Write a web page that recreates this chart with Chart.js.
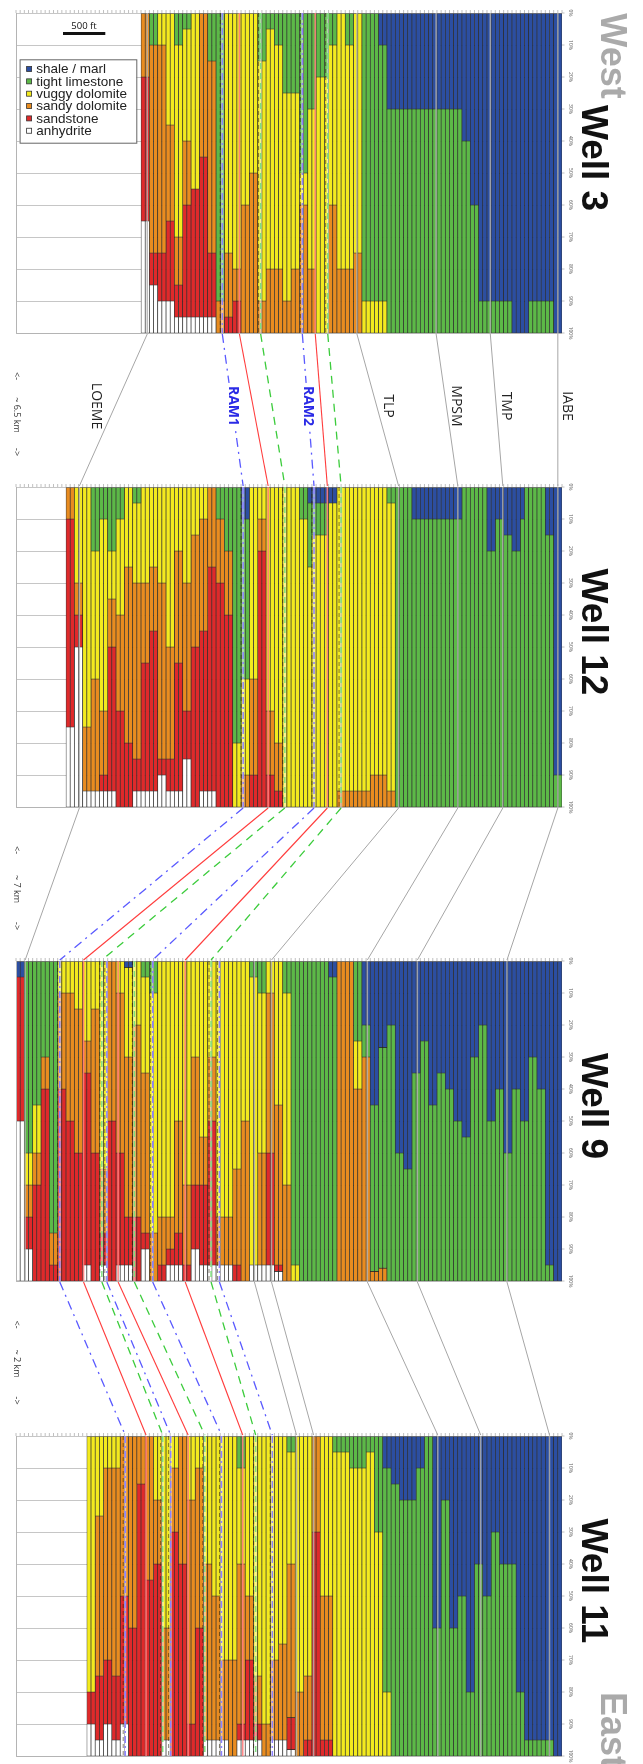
<!DOCTYPE html>
<html>
<head>
<meta charset="utf-8">
<script src="https://cdn.jsdelivr.net/npm/chart.js@4.4.1/dist/chart.umd.min.js"></script>
<style>
  body { margin: 0; background: #fff; }
  #page { position: relative; width: 643px; height: 1764px; overflow: hidden; background: #fff; }
  #page canvas { position: absolute; left: 0; }
</style>
</head>
<body>
<div id="page"></div>
<script>
// ==========================================
// DATA
// ==========================================

// every panel has the same number of depth columns; wells start further right when shorter
const columnCount = 131;
const columnLabels = Array.from({ length: columnCount }, (_, i) => i + 1);
const wellNames = ["Well 3", "Well 12", "Well 9", "Well 11"];
const wellFirstColumn = [30, 12, 0, 17];

const layerNames = ["shale / marl", "tight limestone", "vuggy dolomite", "sandy dolomite", "sandstone", "anhydrite"];
const layerColors = ["#2b4ea2", "#5cb947", "#f3ea1e", "#e98c1f", "#e0292a", "#ffffff"];

const percentTicks = [0, 10, 20, 30, 40, 50, 60, 70, 80, 90, 100];

// base (in %) of each layer per column, top = 0 %
const w3ShaleBase = [
  0,0,0,0,0,0,0,0,0,0, 0,0,0,0,0,0,0,0,0,0,
  0,0,0,0,0,0,0,0,0,0, 0,0,0,0,0,0,0,0,0,0,
  0,0,0,0,0,0,0,0,0,0, 0,0,0,0,0,0,0, 10,10,
  30,30,30,30,30,30,30,30,30,30, 30,30,30,30,30,30,30,30,
  40,40, 60,60, 90,90,90,90,90,90,90,90, 100,100,100,100, 90,90,90,90,90,90, 100,100
];
const w3LimeBase = [
  0,0, 10,10, 0,0, 0,0, 10,10, 5,5, 0,0, 0,0, 15,15, 90,90,
  0,0, 0,0, 0,0, 0,0, 15,15, 5,5, 10,10, 25,25, 25,25, 50,50,
  30,30, 20,20,20, 10,10, 0,0, 10,10, 0,0, 90,90,90,90, 90,90,
  100,100,100,100,100,100,100,100,100,100, 100,100,100,100,100,100,100,100,100,100,
  100,100,100,100,100,100,100,100,100,100, 100,100,100,100,100,100,100,100,100,100,
  100,100
];
const w3VuggyBase = [
  0,0, 10,10, 10,10, 35,35, 70,70, 40,40, 55,55, 0,0, 15,15, 90,90,
  75,75, 80,80, 60,60, 50,50, 90,90, 80,80, 80,80, 90,90, 80,80, 60,60,
  80,80, 100,100,100, 60,60, 80,80, 80,80, 75,75,
  100,100,100,100,100,100,100,100,100,100, 100,100,100,100,100,100,100,100,100,100,
  100,100,100,100,100,100,100,100,100,100, 100,100,100,100,100,100,100,100,100,100,
  100,100,100,100,100,100,100,100
];
const w3SandyBase = [
  20,20, 75,75, 75,75, 65,65, 85,85, 60,60, 55,55, 45,45, 75,75, 100,100,
  95,95, 90,90,
  100,100,100,100,100,100,100,100,100,100, 100,100,100,100,100,100,100,100,100,100,
  100,100,100,100,100,100,100,100,100,100, 100,100,100,100,100,100,100,100,100,100,
  100,100,100,100,100,100,100,100,100,100, 100,100,100,100,100,100,100,100,100,100,
  100,100,100,100,100,100,100,100,100,100, 100,100,100,100,100,100,100
];
const w3SandBase = [
  65,65, 85,85, 90,90, 90,90, 95,95, 95,95, 95,95, 95,95, 95,95,
  100,100,100,100,100,100,100,100,100,100, 100,100,100,100,100,100,100,100,100,100,
  100,100,100,100,100,100,100,100,100,100, 100,100,100,100,100,100,100,100,100,100,
  100,100,100,100,100,100,100,100,100,100, 100,100,100,100,100,100,100,100,100,100,
  100,100,100,100,100,100,100,100,100,100, 100,100,100,100,100,100,100,100,100,100,
  100,100,100
];

const w12ShaleBase = [
  0,0,0,0,0,0,0,0,0,0, 0,0,0,0,0,0,0,0,0,0,
  0,0,0,0,0,0,0,0,0,0, 0,0,0,0,0,0,0,0,0,0,
  0,0, 10,10, 0,0,0,0,0,0,0,0,0,0,0,0,0,0,
  5,5,5,5,5,5,5,
  0,0,0,0,0,0,0,0,0,0, 0,0,0,0,0,0,0,0,
  10,10,10,10,10,10,10,10,10,10,10,10,
  0,0,0,0,0,0, 20,20, 10,10, 15,15, 20,20, 10, 0,0,0,0,0, 15,15, 90,90
];
const w12LimeBase = [
  0,0, 0,0, 0,0, 20,20, 10,10, 20,20, 10,10, 0,0, 5,5, 0,0,
  0,0, 0,0, 0,0, 0,0, 0,0, 0,0, 0,0, 0,0, 10,10, 20,20,
  80,80, 60,60, 0,0, 0,0, 0,0, 0,0, 0,0,0,0, 10,10,
  25, 15,15,15,15, 5,5,
  0,0,0,0,0,0,0,0, 0,0,0,0, 5,5,
  100,100,100,100,100,100,100,100,100,100, 100,100,100,100,100,100,100,100,100,100,
  100,100,100,100,100,100,100,100,100,100, 100,100,100,100,100,100,100,100,100,100
];
const w12VuggyBase = [
  0,0, 30,30, 75,75, 60,60, 70,70, 35,35, 40,40, 25,25, 30,30, 30,30,
  25,25, 30,30, 50,50, 20,20, 30,30, 15,15, 10,10, 0,0, 10,10, 20,20,
  100,100, 90,90, 60,60, 10,10, 70,70, 80,80,
  100,100,100,100, 100,100, 100, 100,100,100,100, 100,100,
  95,95,95,95,95,95,95,95, 90,90,90,90, 95,95,
  100,100,100,100,100,100,100,100,100,100, 100,100,100,100,100,100,100,100,100,100,
  100,100,100,100,100,100,100,100,100,100, 100,100,100,100,100,100,100,100,100,100
];
const w12SandyBase = [
  10,10, 40,40, 95,95, 95,95, 90,90, 50,50, 70,70, 80,80, 85,85, 55,55,
  45,45, 85,85, 85,85, 55,55, 70,70, 50,50, 45,45, 25,25, 30,30, 40,40,
  100,100, 100,100, 90,90, 20,20, 90,90, 95,95,
  100,100,100,100,100,100,100,100,100,100, 100,100,100,100,100,100,100,100,100,100,
  100,100,100,100,100,100,100,100,100,100, 100,100,100,100,100,100,100,100,100,100,
  100,100,100,100,100,100,100,100,100,100, 100,100,100,100,100,100,100,100,100,100,
  100,100,100,100,100,100,100
];
const w12SandBase = [
  75,75, 50,50, 95,95, 95,95, 95,95, 95,95, 100,100, 100,100, 95,95, 95,95,
  95,95, 90,90, 95,95, 95,95, 85,85, 100,100, 95,95, 95,95, 100,100, 100,100,
  100,100,100,100,100,100,100,100,100,100, 100,100,100,100,100,100,100,100,100,100,
  100,100,100,100,100,100,100,100,100,100, 100,100,100,100,100,100,100,100,100,100,
  100,100,100,100,100,100,100,100,100,100, 100,100,100,100,100,100,100,100,100,100,
  100,100,100,100,100,100,100,100,100,100, 100,100,100,100,100,100,100,100,100
];

const w9ShaleBase = [
  5,5,
  0,0,0,0,0,0,0,0,0,0, 0,0,0,0,0,0,0,0,0,0, 0,0,0,0,
  2,2,
  0,0,0,0,0,0,0,0,0,0, 0,0,0,0,0,0,0,0,0,0, 0,0,0,0,0,0,0,0,0,0,
  0,0,0,0,0,0,0,0,0,0, 0,0,0,0,0,0,0,
  5,5,
  0,0,0,0,0,0,
  20,20, 45,45, 27,27, 20,20, 60,60, 65,65, 35,35, 25,25, 45,45, 35,35, 40,40, 50,50,
  55,55, 30,30, 20,20, 50,50, 40,40, 60,60, 40,40, 50,50, 30,30, 40,40, 95,95, 100,100
];
const w9LimeBase = [
  5,5, 60,60, 45,45, 30,30, 85,85, 0,0,0,0,0,0,0,0,0,0,
  0,0,0,0,0,0, 2,2, 0,0, 5,5, 10,10, 0,0,0,0,0,0,
  0,0,0,0,0,0,0,0,0,0,0,0,0,0,0,0, 5,5, 10,10,
  0,0, 0,0, 10,10, 95,95,
  100,100,100,100,100,100,100, 100,100,
  0,0,0,0, 25,25, 30,30, 97,97, 96,96,
  100,100,100,100,100,100,100,100,100,100, 100,100,100,100,100,100,100,100,100,100,
  100,100,100,100,100,100,100,100,100,100, 100,100,100,100,100,100,100,100,100,100,
  100,100
];
const w9VuggyBase = [
  5,5, 70,70, 60,60, 30,30, 85,85, 10,10, 10,10, 15,15, 25,25, 15,15,
  65,65, 0,0, 10,10, 30,30, 20,20, 35,35, 85,85, 80,80, 80,80, 50,50,
  70,70, 30,30, 55,55, 30,30, 80,80, 80,80, 65,65, 50,50, 95,95, 60,60,
  10,10, 45,45, 70,70, 100,100,
  100,100,100,100,100,100,100, 100,100,
  0,0,0,0, 40,40, 30,30, 97,97, 96,96,
  100,100,100,100,100,100,100,100,100,100, 100,100,100,100,100,100,100,100,100,100,
  100,100,100,100,100,100,100,100,100,100, 100,100,100,100,100,100,100,100,100,100,
  100,100
];
const w9SandyBase = [
  5,5, 80,80, 70,70, 40,40, 95,95, 40,40, 50,50, 60,60, 35,35, 60,60,
  85,85, 50,50, 60,60, 80,80, 80,80, 85,85, 100,100, 95,95, 90,90, 85,85,
  95,95, 70,70, 70,70, 50,50, 95,95, 95,95, 95,95, 100,100, 95,95, 95,95,
  60,60, 95,95, 100,100, 100,100,
  100,100,100,100,100,100,100,100,100,100, 100,100,100,100,100,100,100,100,100,100,
  100,100,100,100,100,100,100,100,100,100, 100,100,100,100,100,100,100,100,100,100,
  100,100,100,100,100,100,100,100,100,100, 100,100,100,100,100,100,100,100,100,100,
  100,100,100
];
const w9SandBase = [
  50,50, 90,90, 100,100, 100,100, 100,100, 100,100, 100,100, 100,100, 95,95, 100,100,
  95,95, 100,100, 95,95, 95,95, 100,100, 90,90, 100,100, 100,100, 95,95, 95,95,
  100,100, 90,90, 95,95, 95,95, 95,95, 95,95, 100,100, 100,100, 95,95, 95,95,
  95,95, 97,97, 100,100, 100,100,
  100,100,100,100,100,100,100,100,100,100, 100,100,100,100,100,100,100,100,100,100,
  100,100,100,100,100,100,100,100,100,100, 100,100,100,100,100,100,100,100,100,100,
  100,100,100,100,100,100,100,100,100,100, 100,100,100,100,100,100,100,100,100,100,
  100,100,100
];

const w11ShaleBase = [
  0,0,0,0,0,0,0,0,0,0, 0,0,0,0,0,0,0,0,0,0,
  0,0,0,0,0,0,0,0,0,0, 0,0,0,0,0,0,0,0,0,0,
  0,0,0,0,0,0,0,0,0,0, 0,0,0,0,0,0,0,0,0,0,
  0,0,0,0,0,0,0,0,0,0, 0,
  10,10, 15,15, 20,20,20,20, 10,10, 0,0, 60,60, 20,20, 60,60, 50,50, 80,80,
  40,40, 50,50, 30,30, 40,40,40,40, 80,80, 95,95,95,95,95,95,95, 100,100
];
const w11LimeBase = [
  0,0,0,0,0,0,0,0,0,0, 0,0,0,0,0,0,0,0,0,0,
  0,0,0,0,0,0,0,0,0,0, 0,0,0,0,0,0,
  10,10,
  0,0,0,0,0,0,0,0,0,0,
  5,5,
  0,0,0,0,0,0,0,0,0,
  5,5,5,5, 10,10,10,10, 5,5, 30,30, 80,80,
  100,100,100,100,100,100,100,100,100,100, 100,100,100,100,100,100,100,100,100,100,
  100,100,100,100,100,100,100,100,100,100, 100,100,100,100,100,100,100,100,100,100,
  100
];
const w11VuggyBase = [
  80,80, 25,25, 10,10, 10,10, 0,0, 0,0, 0,0, 0,0, 20,20, 60,60,
  10,10, 0,0, 20,20, 10,10, 40,40, 50,50, 70,70, 70,70, 40,40, 50,50,
  75,75, 90,90, 70,70, 65,65, 40,40, 80,80, 75,75, 0,0,
  50,50,50,
  100,100,100,100,100,100,100,100,100,100, 100,100,100,100,100,100,100,100,100,100,
  100,100,100,100,100,100,100,100,100,100, 100,100,100,100,100,100,100,100,100,100,
  100,100,100,100,100,100,100,100,100,100, 100,100,100,100,100
];
const w11SandyBase = [
  80,80, 75,75, 70,70, 75,75, 50,50, 60,60, 15,15, 45,45, 40,40, 95,95,
  30,30, 40,40, 90,90, 60,60, 95,95, 95,95, 95,95, 100,100, 90,90, 70,70,
  90,90, 100,100, 95,95, 95,95, 88,88, 100,100, 95,95, 30,30,
  95,95,95,
  100,100,100,100,100,100,100,100,100,100, 100,100,100,100,100,100,100,100,100,100,
  100,100,100,100,100,100,100,100,100,100, 100,100,100,100,100,100,100,100,100,100,
  100,100,100,100,100,100,100,100,100,100, 100,100,100,100,100
];
const w11SandBase = [
  90,90, 95,95, 90,90, 95,95, 90,90, 100,100, 100,100, 100,100, 100,100, 95,95,
  100,100, 100,100, 100,100, 100,100, 95,95, 95,95, 95,95, 100,100, 95,95, 95,95,
  95,95, 100,100, 95,95, 95,95, 98,98, 100,100, 100,100, 100,100,
  100,100,100,
  100,100,100,100,100,100,100,100,100,100, 100,100,100,100,100,100,100,100,100,100,
  100,100,100,100,100,100,100,100,100,100, 100,100,100,100,100,100,100,100,100,100,
  100,100,100,100,100,100,100,100,100,100, 100,100,100,100,100
];

// correlation horizons: column position in each well (null = not picked)
const horizonNames = ["LOEME", "RAM1", "", "", "", "", "", "RAM2", "", "", "", "", "TLP", "MPSM", "TMP", "IABE"];
const horizonKinds = ["gray", "blue", "red", "green", "blue", "red", "green", "blue", "red", "green", "blue", "gray", "gray", "gray", "gray", "gray"];
const horizonW3  = [31.5, 49.5, 53.6, 58.7, null, null, null, 68.7, 71.8, 74.8, null, null, 81.8, 100.8, 113.8, 130];
const horizonW12 = [15.2, 54.5, 60.5, 64.5, null, null, null, 71.5, 74.7, 78.0, null, null, 91.8, 106.0, 116.8, 130];
const horizonW9  = [2.2, 10.5, 16.2, 20.6, 21.8, 24.5, 28.4, 32.8, 40.6, 46.8, 48.8, 57.2, 61.3, 84.3, 96.3, 117.8];
const horizonW11 = [null, 26.2, 31.2, 35.2, 37.1, 41.3, 45.3, 49.3, 54.4, 57.5, 61.5, 67.3, 71.4, 101.2, 111.5, 128];

const distanceLabels = ["~ 6.5 km", "~ 7 km", "~ 2 km"];

// ==========================================
// LAYOUT
// ==========================================
const panelTop = [13, 487, 961, 1436];
const panelHeight = 320;
const margin = 10;
const labelShift = [-17, 0, 0, 0, 0, 0, 0, 0, 0, 0, 0, 0, 10, 9, 9, 9];

const wellBases = [
  [w3ShaleBase, w3LimeBase, w3VuggyBase, w3SandyBase, w3SandBase],
  [w12ShaleBase, w12LimeBase, w12VuggyBase, w12SandyBase, w12SandBase],
  [w9ShaleBase, w9LimeBase, w9VuggyBase, w9SandyBase, w9SandBase],
  [w11ShaleBase, w11LimeBase, w11VuggyBase, w11SandyBase, w11SandBase],
];
const horizonPos = [horizonW3, horizonW12, horizonW9, horizonW11];

// ==========================================
// HELPERS
// ==========================================
function drawRotated(ctx, text, x, y, font, color, align, baseline) {
  ctx.save();
  ctx.translate(x, y);
  ctx.rotate(Math.PI / 2);
  ctx.font = font;
  ctx.fillStyle = color;
  ctx.textAlign = align;
  ctx.textBaseline = baseline;
  ctx.fillText(text, 0, 0);
  ctx.restore();
}

function vline(ctx, px, top, bottom) {
  ctx.beginPath();
  ctx.moveTo(px, top);
  ctx.lineTo(px, bottom);
  ctx.stroke();
}

// horizon line as it shows inside a panel
function drawInside(ctx, kind, px, top, bottom) {
  ctx.save();
  if (kind === "gray") {
    ctx.strokeStyle = "rgba(175,175,175,0.85)";
    ctx.lineWidth = 1.5;
    vline(ctx, px, top, bottom);
  } else if (kind === "red") {
    ctx.strokeStyle = "rgba(255,125,125,0.9)";
    ctx.lineWidth = 1.6;
    vline(ctx, px, top, bottom);
  } else {
    ctx.strokeStyle = "rgba(40,30,0,0.55)";
    ctx.lineWidth = 1;
    ctx.setLineDash([4, 3]);
    vline(ctx, px - 2, top, bottom);
    ctx.setLineDash([]);
    ctx.strokeStyle = "rgba(255,255,255,0.5)";
    ctx.lineWidth = 2.4;
    vline(ctx, px, top, bottom);
    ctx.strokeStyle = kind === "blue" ? "#8c82ff" : "#7ee07e";
    ctx.lineWidth = 1.5;
    ctx.setLineDash(kind === "blue" ? [7, 3, 2, 3] : [6, 4]);
    vline(ctx, px, top, bottom);
  }
  ctx.restore();
}

function connectorStyle(ctx, kind) {
  ctx.setLineDash([]);
  if (kind === "gray") { ctx.strokeStyle = "#a6a6a6"; ctx.lineWidth = 1; }
  if (kind === "red") { ctx.strokeStyle = "#ff3c3c"; ctx.lineWidth = 1.1; }
  if (kind === "blue") { ctx.strokeStyle = "#5a5aff"; ctx.lineWidth = 1.3; ctx.setLineDash([9, 5, 2, 5]); }
  if (kind === "green") { ctx.strokeStyle = "#3ccc3c"; ctx.lineWidth = 1.3; ctx.setLineDash([8, 6]); }
}

function buildDatasets(w) {
  const bases = wellBases[w];
  const first = wellFirstColumn[w];
  return layerNames.map((name, k) => ({
    label: name,
    backgroundColor: layerColors[k],
    borderColor: "rgba(25,25,25,0.85)",
    borderWidth: 0.7,
    borderSkipped: false,
    grouped: false,
    barPercentage: 1,
    categoryPercentage: 1,
    data: columnLabels.map((_, c) => {
      const j = c - first;
      if (j < 0 || j >= bases[0].length) return null;
      const lo = k === 0 ? 0 : bases[k - 1][j];
      const hi = k === 5 ? 100 : bases[k][j];
      return hi > lo ? [lo, hi] : null;
    }),
  }));
}

// ==========================================
// PANEL DECORATION PLUGIN
// ==========================================
const panelDecor = {
  id: "panelDecor",
  afterDatasetsDraw(chart, args, opts) {
    const { ctx, chartArea: a } = chart;
    const x = chart.scales.x;
    const y = chart.scales.y;
    const w = opts.well;
    ctx.save();
    // frame
    ctx.strokeStyle = "#b4b4b4";
    ctx.lineWidth = 1;
    ctx.beginPath();
    ctx.moveTo(a.left + 0.5, a.top);
    ctx.lineTo(a.left + 0.5, a.bottom + 0.5);
    ctx.lineTo(a.right, a.bottom + 0.5);
    ctx.stroke();
    // small column ticks along the top edge
    ctx.strokeStyle = "#b0b0b0";
    ctx.lineWidth = 0.8;
    ctx.beginPath();
    for (let c = 0; c <= columnCount; c++) {
      const px = x.getPixelForValue(c - 0.5);
      ctx.moveTo(px, a.top - 3);
      ctx.lineTo(px, a.top);
    }
    // percent tick marks on the right edge
    percentTicks.forEach((v) => {
      const py = y.getPixelForValue(v);
      ctx.moveTo(a.right, py);
      ctx.lineTo(a.right + 2.5, py);
    });
    ctx.stroke();
    // horizons through the panel
    ctx.beginPath();
    ctx.rect(a.left, a.top, a.right - a.left, a.bottom - a.top);
    ctx.clip();
    horizonKinds.forEach((kind, h) => {
      const pos = horizonPos[w][h];
      if (pos === null) return;
      drawInside(ctx, kind, x.getPixelForValue(pos - 0.5), a.top, a.bottom);
    });
    ctx.restore();
  },
  afterDraw(chart, args, opts) {
    const { ctx, chartArea: a } = chart;
    const y = chart.scales.y;
    const w = opts.well;
    percentTicks.forEach((v) => {
      drawRotated(ctx, v + "%", a.right + 7, y.getPixelForValue(v), '5px "Open Sans"', "#555", "center", "alphabetic");
    });
    drawRotated(ctx, wellNames[w], a.right + 20, a.top + 145, 'bold 37px "Liberation Sans"', "#111", "center", "alphabetic");
    if (w === 0) {
      drawRotated(ctx, "West", a.right + 39, a.top + 43, 'bold 36px "Liberation Sans"', "#aaaaaa", "center", "alphabetic");
      // scale bar
      ctx.save();
      ctx.fillStyle = "#111";
      ctx.font = '9.5px "Open Sans"';
      ctx.textAlign = "center";
      ctx.textBaseline = "alphabetic";
      ctx.fillText("500 ft", a.left + 68, a.top + 16);
      ctx.fillRect(a.left + 47, a.top + 19, 42.3, 3);
      // legend
      const bx = a.left + 3.6, by = a.top + 46.3;
      ctx.fillStyle = "#fff";
      ctx.fillRect(bx, by, 116.7, 83.4);
      ctx.strokeStyle = "#666";
      ctx.lineWidth = 1;
      ctx.strokeRect(bx + 0.5, by + 0.5, 116.7, 83.4);
      ctx.font = '13.5px "Liberation Sans"';
      ctx.textAlign = "left";
      ctx.textBaseline = "middle";
      chart.data.datasets.forEach((ds, r) => {
        const ry = a.top + 56 + 12.35 * r;
        ctx.fillStyle = ds.backgroundColor;
        ctx.fillRect(bx + 7, ry - 2.5, 5, 5);
        ctx.strokeStyle = "#333";
        ctx.lineWidth = 0.8;
        ctx.strokeRect(bx + 7, ry - 2.5, 5, 5);
        ctx.fillStyle = "#222";
        ctx.fillText(ds.label, a.left + 20.3, ry + 0.5);
      });
      ctx.restore();
    }
    if (w === 3) {
      drawRotated(ctx, "East", a.right + 39, a.top + 256, 'bold 36px "Liberation Sans"', "#aaaaaa", "left", "alphabetic");
    }
  },
};

// ==========================================
// BUILD PANELS
// ==========================================
const page = document.getElementById("page");
const charts = wellNames.map((name, w) => {
  const canvas = document.createElement("canvas");
  canvas.width = 643;
  canvas.height = panelHeight + 2 * margin;
  canvas.style.top = panelTop[w] - margin + "px";
  page.appendChild(canvas);
  return new Chart(canvas, {
    type: "bar",
    data: { labels: columnLabels, datasets: buildDatasets(w) },
    options: {
      responsive: false,
      animation: false,
      devicePixelRatio: 1,
      layout: { padding: { left: 16, right: 81, top: margin, bottom: margin } },
      plugins: {
        legend: { display: false },
        tooltip: { enabled: false },
        panelDecor: { well: w },
      },
      scales: {
        x: { display: false, offset: true },
        y: {
          min: 0,
          max: 100,
          reverse: true,
          border: { display: false },
          ticks: { display: false, stepSize: 10 },
          grid: { color: "#c6c6c6", lineWidth: 1, drawTicks: false },
        },
      },
    },
    plugins: [panelDecor],
  });
});

// ==========================================
// CORRELATION LINES BETWEEN PANELS
// ==========================================
const overlay = document.createElement("canvas");
overlay.width = 643;
overlay.height = 1764;
overlay.style.top = "0px";
overlay.style.pointerEvents = "none";
page.appendChild(overlay);
const octx = overlay.getContext("2d");

function geom(w) {
  const ch = charts[w];
  const off = ch.canvas.offsetTop;
  return { top: off + ch.chartArea.top, bottom: off + ch.chartArea.bottom };
}
function horizonX(w, pos) {
  return charts[w].scales.x.getPixelForValue(pos - 0.5);
}

for (let w = 0; w < charts.length - 1; w++) {
  const g0 = geom(w), g1 = geom(w + 1);
  horizonKinds.forEach((kind, h) => {
    const p0 = horizonPos[w][h], p1 = horizonPos[w + 1][h];
    if (p0 === null || p1 === null) return;
    octx.save();
    connectorStyle(octx, kind);
    octx.beginPath();
    octx.moveTo(horizonX(w, p0), g0.bottom + 1);
    octx.lineTo(horizonX(w + 1, p1), g1.top - 1);
    octx.stroke();
    octx.restore();
  });

  const mid = (g0.bottom + g1.top) / 2;
  drawRotated(octx, "<-", 17, mid - 34, '9px "Open Sans"', "#333", "center", "middle");
  drawRotated(octx, distanceLabels[w], 17, mid + 5, '9px "Open Sans"', "#333", "center", "middle");
  drawRotated(octx, "->", 17, mid + 42, '9px "Open Sans"', "#333", "center", "middle");

  if (w === 0) {
    horizonNames.forEach((name, h) => {
      if (!name) return;
      const lx = (horizonX(0, horizonPos[0][h]) + horizonX(1, horizonPos[1][h])) / 2 + labelShift[h];
      const ly = mid - 4;
      const isRam = horizonKinds[h] === "blue";
      const font = isRam ? 'bold 14px "Open Sans"' : '14px "Open Sans"';
      if (isRam) {
        octx.font = font;
        const tw = octx.measureText(name).width;
        octx.fillStyle = "#fff";
        octx.fillRect(lx - 8, ly - tw / 2 - 3, 16, tw + 6);
      }
      drawRotated(octx, name, lx, ly, font, isRam ? "#2b2be6" : "#222", "center", "middle");
    });
  }
}
</script>
</body>
</html>
